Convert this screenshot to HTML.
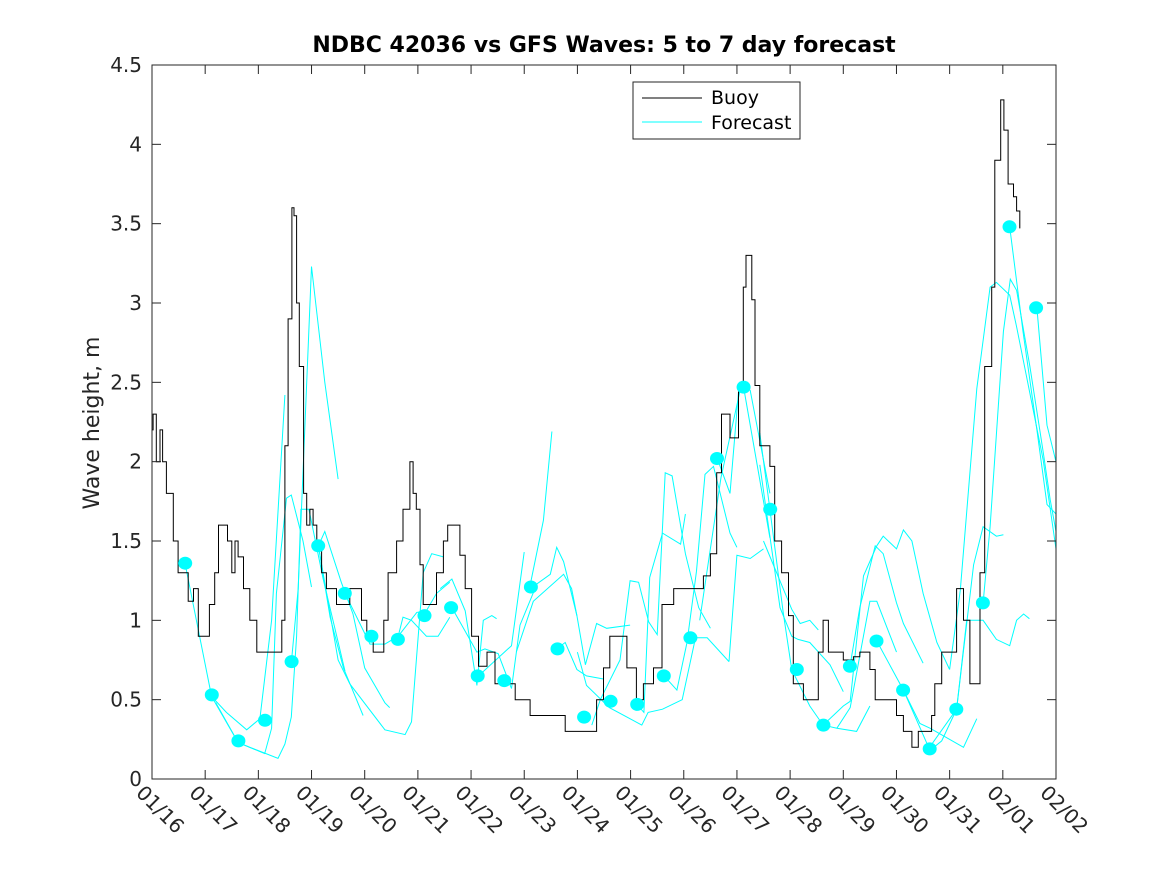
<!DOCTYPE html>
<html><head><meta charset="utf-8"><style>
body{margin:0;background:#fff;}
svg{display:block;font-family:"DejaVu Sans","Liberation Sans",sans-serif;}
</style></head><body>
<svg id="chart" width="1167" height="875" viewBox="0 0 1167 875">
<rect x="0" y="0" width="1167" height="875" fill="#fff"/>
<rect x="152" y="65" width="904" height="714" fill="#fff"/>
<g id="series"></g>
<g id="axes"></g>
<text x="604" y="52" text-anchor="middle" font-size="22" font-weight="bold" fill="#000">NDBC 42036 vs GFS Waves: 5 to 7 day forecast</text>
<text transform="translate(99,423) rotate(-90)" text-anchor="middle" font-size="22" fill="#262626">Wave height, m</text>
<g>
<rect x="633" y="82" width="167" height="57" fill="#fff" stroke="#262626" stroke-width="1"/>
<line x1="642" y1="98" x2="702" y2="98" stroke="#000" stroke-width="1"/>
<text x="711" y="104" font-size="19" fill="#000">Buoy</text>
<line x1="642" y1="122" x2="702" y2="122" stroke="#00ffff" stroke-width="1"/>
<text x="711" y="129" font-size="19" fill="#000">Forecast</text>
</g>
</svg>
<script>
const xTickLabels=["01/16","01/17","01/18","01/19","01/20","01/21","01/22","01/23","01/24","01/25","01/26","01/27","01/28","01/29","01/30","01/31","02/01","02/02"];
const yTicks=[0,0.5,1,1.5,2,2.5,3,3.5,4,4.5];
const yTickLabels=["0","0.5","1","1.5","2","2.5","3","3.5","4","4.5"];
const buoyT=[0.0,0.02,0.08,0.15,0.2,0.27,0.4,0.49,0.58,0.68,0.78,0.87,0.96,1.08,1.18,1.25,1.34,1.42,1.5,1.56,1.62,1.72,1.84,1.97,2.37,2.44,2.5,2.56,2.63,2.67,2.72,2.77,2.85,2.91,2.97,3.03,3.1,3.19,3.28,3.47,3.6,3.72,3.85,3.94,4.04,4.16,4.29,4.36,4.44,4.6,4.72,4.85,4.91,4.97,5.04,5.1,5.26,5.35,5.48,5.56,5.64,5.7,5.79,5.89,6.01,6.14,6.3,6.45,6.83,7.11,7.74,7.77,8.27,8.36,8.49,8.61,8.8,8.93,9.11,9.24,9.43,9.59,9.81,10.18,10.37,10.5,10.62,10.71,10.87,11.03,11.12,11.17,11.28,11.34,11.43,11.62,11.71,11.84,11.97,12.06,12.25,12.4,12.53,12.62,12.72,12.9,13.0,13.19,13.31,13.5,13.6,13.85,14.0,14.13,14.29,14.41,14.66,14.72,14.85,15.0,15.13,15.26,15.38,15.47,15.57,15.66,15.79,15.85,15.96,16.02,16.1,16.2,16.26,16.32];
const buoyV=[2.2,2.3,2.0,2.2,2.0,1.8,1.5,1.3,1.3,1.12,1.2,0.9,0.9,1.1,1.3,1.6,1.6,1.5,1.3,1.5,1.4,1.2,1.0,0.8,0.8,1.0,2.1,2.9,3.6,3.55,3.0,2.6,1.8,1.6,1.7,1.6,1.5,1.3,1.2,1.1,1.1,1.2,1.2,1.0,0.9,0.8,0.8,1.0,1.3,1.5,1.7,2.0,1.8,1.7,1.35,1.1,1.1,1.3,1.5,1.6,1.6,1.6,1.41,1.2,0.9,0.71,0.8,0.6,0.5,0.4,0.4,0.3,0.3,0.5,0.7,0.9,0.9,0.7,0.5,0.6,0.7,1.1,1.2,1.2,1.28,1.42,1.93,2.3,2.15,2.44,3.1,3.3,3.02,2.48,2.1,1.97,1.5,1.3,1.03,0.6,0.5,0.5,0.8,1.0,0.8,0.8,0.75,0.77,0.8,0.69,0.5,0.5,0.4,0.3,0.2,0.3,0.4,0.6,0.8,0.8,1.2,1.0,0.6,0.6,1.3,2.6,3.1,3.9,4.28,4.09,3.75,3.67,3.58,3.47];
const dotT=[0.625,1.125,1.625,2.125,2.625,3.125,3.625,4.125,4.625,5.125,5.625,6.125,6.625,7.125,7.625,8.125,8.625,9.125,9.625,10.125,10.625,11.125,11.625,12.125,12.625,13.125,13.625,14.125,14.625,15.125,15.625,16.125,16.625];
const dotV=[1.36,0.53,0.24,0.37,0.74,1.47,1.17,0.9,0.88,1.03,1.08,0.65,0.62,1.21,0.82,0.39,0.49,0.47,0.65,0.89,2.02,2.47,1.7,0.69,0.34,0.71,0.87,0.56,0.19,0.44,1.11,3.48,2.97];
const fcT=[
[0.62,1.12,1.4,1.78,2.03,2.25,2.5],
[1.12,1.62,2.12,2.25,2.34,2.53,2.62,2.84,3.0],
[1.2,1.62,1.84,2.37,2.5,2.62,2.72,2.8,2.95,3.22,3.63],
[2.62,2.75,3.0,3.25,3.5],
[3.13,3.25,3.56,3.78,4.0,4.38,4.47],
[3.13,3.35,3.6,3.97],
[3.13,3.5,3.72,4.38,4.76,4.88,5.1,5.26,5.48],
[3.63,4.1,4.38,4.63,4.72,4.88,5.16,5.38,5.6],
[4.63,4.98,5.16,5.35,5.6],
[5.42,5.64,5.89,6.11,6.23,6.39,6.48],
[5.64,6.11,6.26,6.51,6.76],
[6.14,6.76,7.0],
[7.11,7.36,7.52],
[6.76,6.92,7.24,7.49,7.61,7.74,7.99,8.15,8.36,8.55,8.99],
[6.85,7.17,7.74,7.89,7.99],
[7.61,7.77,7.99,8.17,8.49],
[8.0,8.17,8.6,9.21,9.33,9.6,9.97,10.22,10.44,10.85],
[8.27,8.43,8.8,8.99,9.15,9.34,9.5,9.65,9.78,10.03,10.28,10.5],
[9.12,9.25,9.36,9.6,9.94,10.03],
[9.63,9.87,10.06,10.24,10.4,10.56,10.87,11.0],
[10.62,10.87,11.03,11.12,11.62],
[10.3,10.7,11.08,11.25,11.5,11.62],
[10.85,11.0,11.25,11.5],
[11.43,11.62,11.87,12.03,12.37,12.62,12.88,13.25,13.5],
[11.43,11.81,12.03,12.15,12.37,12.75,13.0],
[11.5,12.03,12.19,12.37,12.53],
[12.62,13.0,13.13,13.38,13.63,13.75,14.0,14.13,14.29,14.5,14.76,15.0],
[13.13,13.31,13.6,13.75,14.0,14.13,14.5],
[12.88,13.13,13.5,13.63,14.0],
[13.63,14.13,14.44,14.63,15.26,15.51],
[14.13,14.63,14.85,15.13,15.45,15.63,15.88,16.01],
[14.6,15.13,15.32,15.63,15.88,16.13,16.26,16.39,16.5],
[15.0,15.2,15.51,15.76,15.88,16.13,16.26,16.51,16.76,17.0],
[15.63,15.76,16.01,16.14,16.26,16.51,16.76,16.89,17.0],
[16.13,16.38,16.64,16.83,17.0],
[16.64,16.83,17.0]
];
const fcV=[
[1.36,0.52,0.42,0.31,0.38,1.0,2.42],
[0.52,0.23,0.16,0.32,1.17,1.77,1.79,1.5,1.21],
[0.48,0.23,0.2,0.13,0.22,0.39,0.9,1.7,1.7,1.26,0.68],
[0.73,1.2,3.23,2.5,1.89],
[1.47,1.56,1.24,1.04,0.7,0.48,0.45],
[1.47,1.02,0.7,0.4],
[1.47,0.75,0.6,0.31,0.28,0.36,1.3,1.42,1.4],
[1.17,0.85,0.85,0.9,1.02,1.0,0.9,0.9,1.02],
[0.9,1.05,1.06,1.17,1.24],
[1.2,1.26,1.06,0.59,1.0,1.03,1.01],
[1.08,0.8,0.82,0.79,0.57],
[0.65,0.84,1.43],
[1.22,1.63,2.19],
[0.57,0.97,1.23,1.29,1.46,1.37,1.03,0.72,0.98,0.95,0.97],
[0.8,1.12,1.29,1.2,1.03],
[0.82,0.86,0.69,0.65,0.63],
[0.8,0.59,0.45,0.34,0.42,0.44,0.5,0.89,0.89,0.74],
[0.34,0.5,0.75,1.25,1.24,0.99,0.91,1.93,1.91,1.42,1.08,0.95],
[0.47,0.42,1.27,1.55,1.48,1.67],
[0.65,0.56,0.86,1.31,1.92,1.97,1.55,1.46],
[2.03,1.8,2.44,2.48,1.52],
[1.0,1.9,2.48,2.45,2.01,1.8],
[0.74,1.41,1.39,1.45],
[2.18,1.7,1.05,0.69,0.46,0.34,0.32,0.3,0.46],
[1.98,1.08,0.9,0.88,0.86,0.72,0.55],
[1.5,1.07,0.98,1.0,0.94],
[0.34,0.46,0.49,1.28,1.47,1.53,1.45,1.57,1.5,1.17,0.86,0.69],
[0.72,1.08,1.47,1.42,1.11,0.98,0.73],
[0.32,0.45,1.12,1.12,0.8],
[0.87,0.56,0.35,0.32,0.2,0.38],
[0.56,0.18,0.24,0.44,1.35,1.59,1.53,1.54],
[0.19,0.44,1.0,1.0,0.88,0.84,1.0,1.04,1.01],
[0.69,1.19,2.46,3.1,3.13,3.05,2.85,2.43,2.01,1.45],
[1.11,1.59,2.82,3.15,3.08,2.6,2.06,1.76,1.56],
[3.48,2.82,2.2,1.73,1.67],
[2.97,2.23,2.0]
];
const NS="http://www.w3.org/2000/svg";
const X0=152,X1=1056,Y0=779,Y1=65,DAYS=17,YMAX=4.5;
function xs(d){return X0+(X1-X0)*d/DAYS;}
function ys(v){return Y0-(Y0-Y1)*v/YMAX;}
function mk(tag,attrs,parent){const e=document.createElementNS(NS,tag);for(const k in attrs)e.setAttribute(k,attrs[k]);parent.appendChild(e);return e;}
const series=document.getElementById('series');
const axes=document.getElementById('axes');
for(let i=0;i<fcT.length;i++){
  const pts=fcT[i].map((t,j)=>xs(t).toFixed(1)+','+ys(fcV[i][j]).toFixed(1)).join(' ');
  const pl=mk('polyline',{points:pts,fill:'none',stroke:'#00ffff','stroke-width':'1'},series);
  
  
}
{
  const p=[];
  for(let j=0;j<buoyT.length;j++){
    const x=xs(buoyT[j]).toFixed(1),y=ys(buoyV[j]).toFixed(1);
    if(j>0)p.push(x+','+ys(buoyV[j-1]).toFixed(1));
    p.push(x+','+y);
  }
  const pl=mk('polyline',{points:p.join(' '),fill:'none',stroke:'#000','stroke-width':'1'},series);
  
  
}
for(let i=0;i<dotT.length;i++){
  const c=mk('ellipse',{cx:xs(dotT[i]).toFixed(1),cy:ys(dotV[i]).toFixed(1),rx:'7',ry:'6.5',fill:'#00ffff'},series);
  
  
}
{
  const b=mk('rect',{x:X0,y:Y1,width:X1-X0,height:Y0-Y1,fill:'none',stroke:'#262626','stroke-width':'1'},axes);
  
  
}
for(let i=0;i<xTickLabels.length;i++){
  const x=xs(i);
  const t1=mk('line',{x1:x,y1:Y0,x2:x,y2:Y0-9,stroke:'#262626'},axes);
  
  
  const t2=mk('line',{x1:x,y1:Y1,x2:x,y2:Y1+9,stroke:'#262626'},axes);
  
  
  const tx=mk('text',{transform:'translate('+(x-17)+',794) rotate(45)','font-size':'20',fill:'#262626'},axes);
  tx.textContent=xTickLabels[i];
  
  
}
for(let i=0;i<yTicks.length;i++){
  const y=ys(yTicks[i]);
  const t1=mk('line',{x1:X0,y1:y,x2:X0+9,y2:y,stroke:'#262626'},axes);
  
  
  const t2=mk('line',{x1:X1,y1:y,x2:X1-9,y2:y,stroke:'#262626'},axes);
  
  
  const tx=mk('text',{x:X0-10,y:y+7,'text-anchor':'end','font-size':'20',fill:'#262626'},axes);
  tx.textContent=yTickLabels[i];
  
  
}
</script>
</body></html>
